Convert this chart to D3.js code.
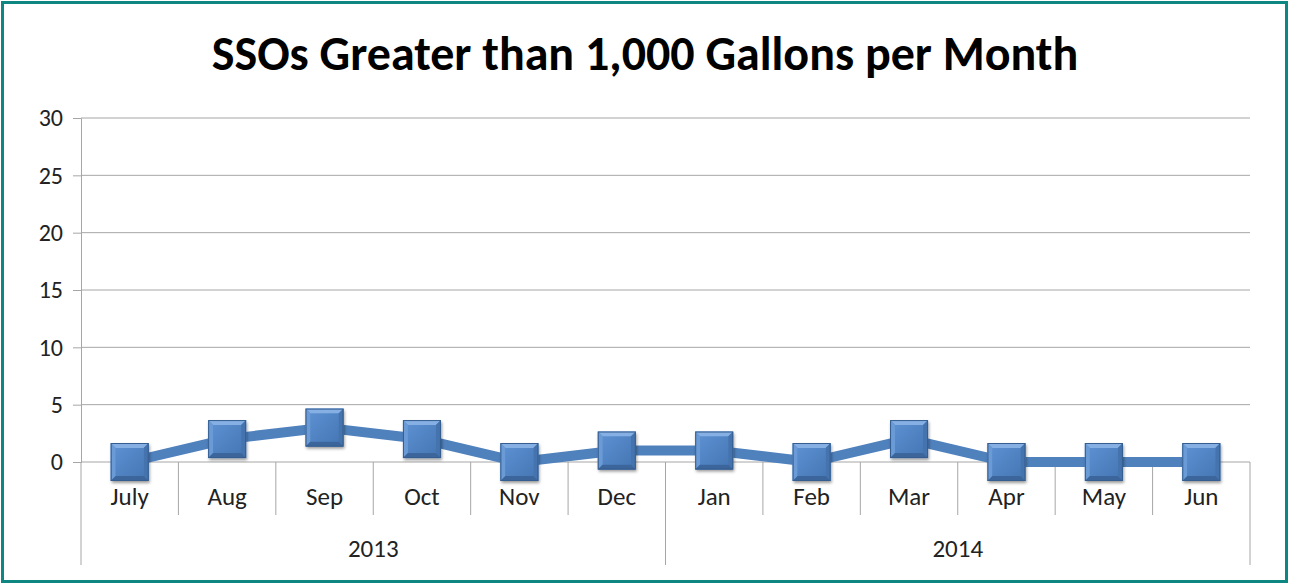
<!DOCTYPE html>
<html>
<head>
<meta charset="utf-8">
<script src="https://cdn.jsdelivr.net/npm/d3@7"></script>
<style>
  body { margin: 0; background: #fff; }
  svg text { font-family: Calibri, Carlito, "Open Sans", "Liberation Sans", sans-serif; }
</style>
</head>
<body>
<div id="plot"></div>
<script>
var width = 1289;
var height = 584;

var months = ['July', 'Aug', 'Sep', 'Oct', 'Nov', 'Dec', 'Jan', 'Feb', 'Mar', 'Apr', 'May', 'Jun'];
var years = ['2013', '2014'];
var monthYear = ['2013', '2013', '2013', '2013', '2013', '2013', '2014', '2014', '2014', '2014', '2014', '2014'];
var ssoCounts = [0, 2, 3, 2, 0, 1, 1, 0, 2, 0, 0, 0];
var yTicks = [0, 5, 10, 15, 20, 25, 30];

var plotLeft = 81, plotRight = 1250, plotTop = 118, plotBottom = 462;

var canvas = d3.select('#plot')
    .append('svg')
    .attr('width', width)
    .attr('height', height);

// outer frame
canvas.append('rect')
    .attr('x', 2.5).attr('y', 2.5)
    .attr('width', width - 5).attr('height', height - 5)
    .attr('fill', '#fff')
    .attr('stroke', '#0E8681')
    .attr('stroke-width', 3);

var defs = canvas.append('defs');
var f = defs.append('filter').attr('id', 'shadow')
    .attr('x', '-30%').attr('y', '-30%').attr('width', '160%').attr('height', '160%');
f.append('feDropShadow').attr('dx', 1).attr('dy', 2).attr('stdDeviation', 1.5)
    .attr('flood-color', '#000').attr('flood-opacity', 0.4);

var grad = defs.append('linearGradient').attr('id', 'face')
    .attr('x1', 0).attr('y1', 0).attr('x2', 1).attr('y2', 1);
grad.append('stop').attr('offset', '0%').attr('stop-color', '#5b8fd0');
grad.append('stop').attr('offset', '100%').attr('stop-color', '#4778b6');

var x_scale = d3.scaleBand()
    .domain(months)
    .range([plotLeft, plotRight]);

var y_scale = d3.scaleLinear()
    .domain([0, 30])
    .range([plotBottom, plotTop]);

// gridlines
canvas.selectAll('line.grid')
    .data(yTicks.filter(function(d) { return d > 0; }))
    .enter()
    .append('line')
    .attr('class', 'grid')
    .attr('x1', plotLeft).attr('x2', plotRight)
    .attr('y1', function(d) { return y_scale(d); })
    .attr('y2', function(d) { return y_scale(d); })
    .attr('stroke', '#a6a6a6').attr('stroke-width', 1);

// y axis
var y_axis = d3.axisLeft(y_scale).tickValues(yTicks).tickSize(8).tickPadding(10);
var yg = canvas.append('g')
    .attr('transform', 'translate(' + plotLeft + ',0)')
    .call(y_axis);
yg.select('.domain').attr('stroke', '#a6a6a6');
yg.selectAll('.tick line').attr('stroke', '#a6a6a6');
yg.selectAll('.tick text')
    .attr('font-size', 24)
    .attr('fill', '#222')
    .style('font-family', 'Calibri, Carlito, "Open Sans", sans-serif');

// category axis baseline
canvas.append('line')
    .attr('x1', plotLeft).attr('x2', plotRight)
    .attr('y1', plotBottom).attr('y2', plotBottom)
    .attr('stroke', '#a6a6a6');

// month dividers
canvas.selectAll('line.mdiv')
    .data(months.slice(1))
    .enter()
    .append('line')
    .attr('class', 'mdiv')
    .attr('x1', function(d) { return x_scale(d); })
    .attr('x2', function(d) { return x_scale(d); })
    .attr('y1', plotBottom)
    .attr('y2', function(d, i) { return monthYear[i + 1] !== monthYear[i] ? 565 : 515; })
    .attr('stroke', '#a6a6a6');

// year dividers at edges
canvas.selectAll('line.ydiv')
    .data([plotLeft, plotRight])
    .enter()
    .append('line')
    .attr('class', 'ydiv')
    .attr('x1', function(d) { return d; })
    .attr('x2', function(d) { return d; })
    .attr('y1', plotBottom).attr('y2', 565)
    .attr('stroke', '#a6a6a6');

// month labels
canvas.selectAll('text.month')
    .data(months)
    .enter()
    .append('text')
    .attr('class', 'month')
    .attr('x', function(d) { return x_scale(d) + x_scale.bandwidth() / 2; })
    .attr('y', 505)
    .attr('text-anchor', 'middle')
    .attr('font-size', 25)
    .attr('fill', '#222')
    .text(function(d) { return d; });

// year labels
canvas.selectAll('text.year')
    .data(years)
    .enter()
    .append('text')
    .attr('class', 'year')
    .attr('x', function(d) {
        var ms = months.filter(function(m, i) { return monthYear[i] === d; });
        return (x_scale(ms[0]) + x_scale(ms[ms.length - 1]) + x_scale.bandwidth()) / 2;
    })
    .attr('y', 557)
    .attr('text-anchor', 'middle')
    .attr('font-size', 25)
    .attr('fill', '#222')
    .text(function(d) { return d; });

// title
canvas.append('text')
    .attr('x', 645)
    .attr('y', 70)
    .attr('text-anchor', 'middle')
    .attr('font-size', 48)
    .attr('font-weight', 'bold')
    .attr('fill', '#000')
    .text('SSOs Greater than 1,000 Gallons per Month');

// line
var line = d3.line()
    .x(function(d, i) { return x_scale(months[i]) + x_scale.bandwidth() / 2; })
    .y(function(d) { return y_scale(d); });

canvas.append('path')
    .datum(ssoCounts)
    .attr('d', line)
    .attr('fill', 'none')
    .attr('stroke', '#4f81bd')
    .attr('stroke-width', 10)
    .attr('stroke-linejoin', 'round');

// beveled square markers
var s = 19, b = 5;
var markers = canvas.selectAll('g.marker')
    .data(ssoCounts)
    .enter()
    .append('g')
    .attr('class', 'marker')
    .attr('transform', function(d, i) {
        return 'translate(' + (x_scale(months[i]) + x_scale.bandwidth() / 2) + ',' + y_scale(d) + ')';
    });

markers.append('rect')
    .attr('x', -s).attr('y', -s)
    .attr('width', 2 * s).attr('height', 2 * s)
    .attr('fill', 'url(#face)')
    .attr('filter', 'url(#shadow)');

var facets = [
    { pts: [[-s, -s], [s, -s], [s - b, -s + b], [-s + b, -s + b]], fill: '#86b0e3' },
    { pts: [[-s, -s], [-s + b, -s + b], [-s + b, s - b], [-s, s]], fill: '#6b9bd6' },
    { pts: [[s, -s], [s, s], [s - b, s - b], [s - b, -s + b]], fill: '#4573ad' },
    { pts: [[-s, s], [-s + b, s - b], [s - b, s - b], [s, s]], fill: '#3b659b' }
];
facets.forEach(function(fc) {
    markers.append('polygon')
        .attr('points', fc.pts.map(function(p) { return p.join(','); }).join(' '))
        .attr('fill', fc.fill);
});
markers.append('rect')
    .attr('x', -s + b).attr('y', -s + b)
    .attr('width', 2 * (s - b)).attr('height', 2 * (s - b))
    .attr('fill', 'url(#face)');
markers.append('rect')
    .attr('x', -s + 0.5).attr('y', -s + 0.5)
    .attr('width', 2 * s - 1).attr('height', 2 * s - 1)
    .attr('fill', 'none')
    .attr('stroke', '#355d8f').attr('stroke-width', 1);
</script>
</body>
</html>
